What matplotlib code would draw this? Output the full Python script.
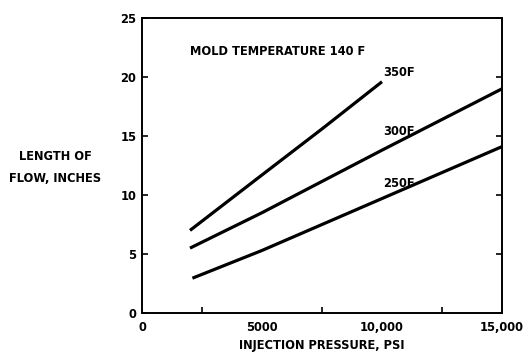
import numpy as np
import matplotlib
matplotlib.use("Agg")
import matplotlib.pyplot as plt

# flow length vs injection pressure, mold temperature 140 F
p_350 = [2000, 5000, 7500, 10000]
len_350 = [7.0, 11.7, 15.6, 19.6]

p_300 = [2000, 5000, 10000, 15000]
len_300 = [5.5, 8.5, 13.8, 19.0]

p_250 = [2100, 5000, 7500, 10000, 15000]
len_250 = [2.95, 5.3, 7.5, 9.7, 14.1]

curve_labels = ["350F", "300F", "250F"]
label_pos = [(10050, 20.4), (10050, 15.4), (10050, 11.0)]

xticks_major = [0, 5000, 10000, 15000]
xtick_labels = ["0", "5000", "10,000", "15,000"]
yticks = [0, 5, 10, 15, 20, 25]

plt.rcParams['font.family'] = ['DejaVu Sans']
plt.rcParams['font.weight'] = 'bold'
plt.rcParams['font.stretch'] = 'condensed'

FS = 9.2

fig = plt.figure(figsize=(5.25, 3.56), dpi=100)
ax = fig.add_axes([142 / 525, 1 - 313 / 356, 360 / 525, 295 / 356])

for xs, ys in [(p_350, len_350), (p_300, len_300), (p_250, len_250)]:
    ax.plot(xs, ys, color='black', linewidth=2.3, solid_capstyle='butt')

for txt, (x, y) in zip(curve_labels, label_pos):
    ax.text(x, y, txt, fontsize=FS, fontweight='bold', stretch='condensed',
            ha='left', va='center')

ax.text(2000, 22.2, 'MOLD TEMPERATURE 140 F', fontsize=FS, fontweight='bold',
        stretch='condensed', ha='left', va='center')

ax.set_xlim(0, 15000)
ax.set_ylim(0, 25)
ax.set_xticks(xticks_major)
ax.set_xticklabels(xtick_labels)
ax.set_xticks([2500, 7500, 12500], minor=True)
ax.set_yticks(yticks)
ax.tick_params(axis='both', which='both', direction='in', length=4, width=1.2,
               labelsize=FS, pad=4)
ax.tick_params(axis='y', right=True)
ax.tick_params(axis='x', which='major', length=0, pad=6)
for lab in ax.get_xticklabels() + ax.get_yticklabels():
    lab.set_fontweight('bold')
    lab.set_fontstretch('condensed')
for s in ax.spines.values():
    s.set_linewidth(1.4)

ax.set_xlabel('INJECTION PRESSURE, PSI', fontsize=FS, fontweight='bold',
              fontstretch='condensed', labelpad=3)
fig.text(55 / 525, 1 - 167 / 356, 'LENGTH OF\nFLOW, INCHES', fontsize=FS,
         fontweight='bold', fontstretch='condensed', ha='center', va='center',
         linespacing=1.9)

fig.savefig('out.png', dpi=100)
